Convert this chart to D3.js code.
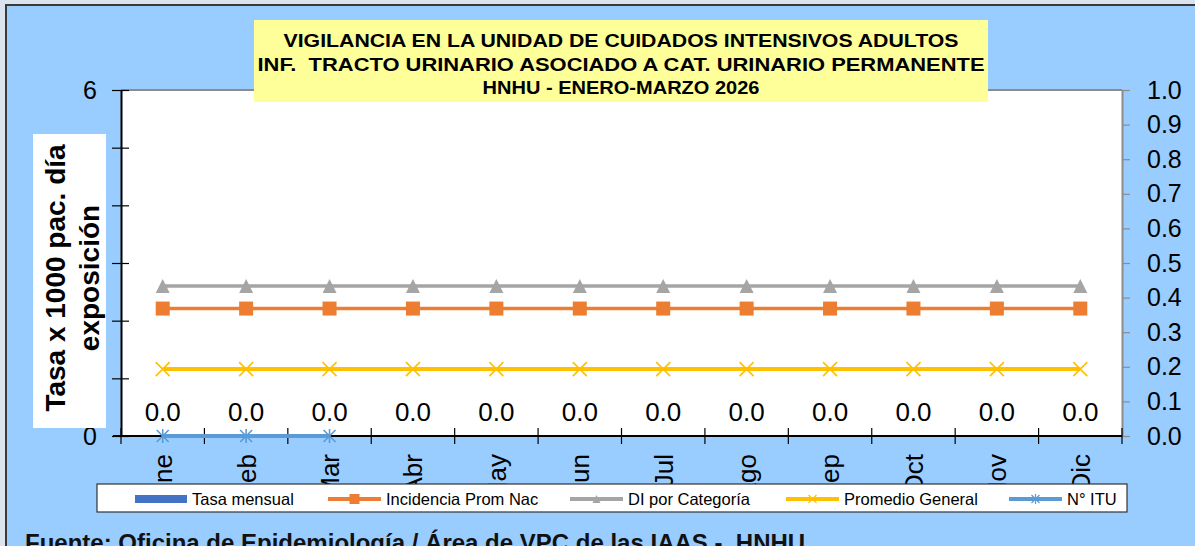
<!DOCTYPE html>
<html>
<head>
<meta charset="utf-8">
<script src="https://cdn.jsdelivr.net/npm/d3@7"></script>
<style>
  html, body { margin: 0; padding: 0; background: #dbe3ef; overflow: hidden; }
  svg { display: block; font-family: "Liberation Sans", Arial, sans-serif; }
  .keep-space { white-space: pre; }
</style>
</head>
<body>
<svg id="chart" width="1195" height="546"></svg>
<script>
// ---- data ----
const months = ["Ene", "Feb", "Mar", "Abr", "May", "Jun", "Jul", "Ago", "Sep", "Oct", "Nov", "Dic"];
const tasaMensual       = [0, 0, 0, 0, 0, 0, 0, 0, 0, 0, 0, 0];
const incidenciaPromNac = [2.21, 2.21, 2.21, 2.21, 2.21, 2.21, 2.21, 2.21, 2.21, 2.21, 2.21, 2.21];
const diPorCategoria    = [2.6, 2.6, 2.6, 2.6, 2.6, 2.6, 2.6, 2.6, 2.6, 2.6, 2.6, 2.6];
const promedioGeneral   = [1.16, 1.16, 1.16, 1.16, 1.16, 1.16, 1.16, 1.16, 1.16, 1.16, 1.16, 1.16];
const nItu              = [0, 0, 0];   // Ene–Mar (eje secundario)
const leftTicks  = [0, 1, 2, 3, 4, 5, 6];
const rightTicks = [0, 0.1, 0.2, 0.3, 0.4, 0.5, 0.6, 0.7, 0.8, 0.9, 1.0];
const titleLines = [
  "VIGILANCIA EN LA UNIDAD DE CUIDADOS INTENSIVOS ADULTOS",
  "INF.  TRACTO URINARIO ASOCIADO A CAT. URINARIO PERMANENTE",
  "HNHU - ENERO-MARZO 2026"
];
const yTitleLines = ["Tasa x 1000 pac. día", "exposición"];
const legendItems = ["Tasa mensual", "Incidencia Prom Nac", "DI por Categoría", "Promedio General", "N° ITU"];
const sourceNote = "Fuente: Oficina de Epidemiología / Área de VPC de las IAAS -  HNHU";

// ---- layout ----
const plot = { left: 121, right: 1122, top: 90, bottom: 436 };
const svg = d3.select("#chart");

const x  = d3.scaleBand().domain(months).range([plot.left, plot.right]);
const yL = d3.scaleLinear().domain([0, 6]).range([plot.bottom, plot.top]);
const yR = d3.scaleLinear().domain([0, 1]).range([plot.bottom, plot.top]);
const cx = m => x(m) + x.bandwidth() / 2;
const FONT = "Liberation Sans, Arial, sans-serif";

// outer chart area
svg.append("rect").attr("x", 6).attr("y", 5).attr("width", 1200).attr("height", 560)
  .attr("fill", "#99ccff").attr("stroke", "#3a3a3a").attr("stroke-width", 2);

// plot area
svg.append("rect").attr("x", plot.left).attr("y", plot.top)
  .attr("width", plot.right - plot.left).attr("height", plot.bottom - plot.top)
  .attr("fill", "#ffffff");
svg.append("line").attr("x1", plot.left).attr("x2", plot.right).attr("y1", plot.top).attr("y2", plot.top)
  .attr("stroke", "#8c8c8c").attr("stroke-width", 2);

// left axis (ticks cross the axis line)
const gL = svg.append("g").attr("transform", `translate(${plot.left},0)`)
  .call(d3.axisLeft(yL).tickValues(leftTicks).tickSizeInner(9).tickSizeOuter(0).tickPadding(15).tickFormat(d3.format("d")));
gL.select(".domain").attr("stroke", "#000").attr("stroke-width", 2);
gL.selectAll(".tick line").attr("x1", 8).attr("stroke", "#000").attr("stroke-width", 1.2);
gL.selectAll(".tick text").attr("font-size", 25).attr("fill", "#000").attr("font-family", FONT);

// right axis
const gR = svg.append("g").attr("transform", `translate(${plot.right},0)`)
  .call(d3.axisRight(yR).tickValues(rightTicks).tickSizeInner(8).tickSizeOuter(0).tickPadding(17).tickFormat(d3.format(".1f")));
gR.select(".domain").attr("stroke", "#8c8c8c").attr("stroke-width", 2);
gR.selectAll(".tick line").attr("stroke", "#8c8c8c").attr("stroke-width", 1.2);
gR.selectAll(".tick text").attr("font-size", 25).attr("fill", "#000").attr("font-family", FONT);

// bottom axis: category labels + boundary ticks
const gB = svg.append("g").attr("transform", `translate(0,${plot.bottom})`)
  .call(d3.axisBottom(x).tickSize(0).tickPadding(0));
gB.select(".domain").remove();
gB.selectAll(".tick text")
  .attr("transform", "rotate(-90)").attr("x", -18).attr("y", 0).attr("dy", "0.36em")
  .attr("text-anchor", "end").attr("font-size", 26).attr("fill", "#000")
  .attr("font-family", FONT);
const bounds = months.map(m => x(m)).concat([plot.right]);
gB.append("line").attr("x1", plot.left - 8).attr("x2", plot.right).attr("stroke", "#000").attr("stroke-width", 2);
gB.selectAll(".bound").data(bounds).join("line").attr("class", "bound")
  .attr("x1", d => d).attr("x2", d => d).attr("y1", -8).attr("y2", 8)
  .attr("stroke", "#000").attr("stroke-width", 1.2);

// bars (Tasa mensual)
svg.append("g").selectAll("rect").data(tasaMensual).join("rect")
  .attr("x", (d, i) => cx(months[i]) - 25).attr("width", 50)
  .attr("y", d => yL(d)).attr("height", d => yL(0) - yL(d))
  .attr("fill", "#4472c4");

// line series
function drawSeries(values, scale, color, width, marker) {
  const pts = values.map((v, i) => [cx(months[i]), scale(v)]);
  svg.append("path").attr("d", d3.line()(pts)).attr("fill", "none")
    .attr("stroke", color).attr("stroke-width", width);
  const g = svg.append("g");
  pts.forEach(p => marker(g.append("g").attr("transform", `translate(${p[0]},${p[1]})`), color));
}
const squareMarker = (g, c) => g.append("rect").attr("x", -7).attr("y", -7).attr("width", 14).attr("height", 14).attr("fill", c);
const triangleMarker = (g, c) => g.append("path").attr("d", "M-7,7L0,-7L7,7Z").attr("fill", c);
const crossMarker = (g, c) => g.append("path").attr("d", "M-7,-7L7,7M-7,7L7,-7").attr("stroke", c).attr("stroke-width", 1.6).attr("fill", "none");
const starMarker = (g, c) => g.append("path").attr("d", "M-6,-6L6,6M-6,6L6,-6M0,-7L0,7").attr("stroke", c).attr("stroke-width", 1.6).attr("fill", "none");

drawSeries(diPorCategoria, yL, "#a5a5a5", 3.5, triangleMarker);
drawSeries(incidenciaPromNac, yL, "#ed7d31", 3.5, squareMarker);
drawSeries(promedioGeneral, yL, "#ffc000", 4, crossMarker);
drawSeries(nItu, yR, "#5b9bd5", 4, starMarker);

// data labels for Tasa mensual
svg.append("g").selectAll("text").data(tasaMensual).join("text")
  .attr("x", (d, i) => cx(months[i])).attr("y", d => yL(d) - 15)
  .attr("text-anchor", "middle").attr("font-size", 26).attr("fill", "#000")
  .text(d => d3.format(".1f")(d));

// legend
const lg = svg.append("g");
lg.append("rect").attr("x", 97).attr("y", 484).attr("width", 1030).attr("height", 28)
  .attr("fill", "#fff").attr("stroke", "#333").attr("stroke-width", 1.2);
const legY = 499;
const legX = [135, 328, 570, 786, 1009];
const legStyle = [
  { color: "#4472c4", kind: "bar" },
  { color: "#ed7d31", kind: "square" },
  { color: "#a5a5a5", kind: "triangle" },
  { color: "#ffc000", kind: "cross" },
  { color: "#5b9bd5", kind: "star" }
];
legendItems.forEach((name, i) => {
  const x0 = legX[i], st = legStyle[i];
  if (st.kind === "bar") {
    lg.append("rect").attr("x", x0).attr("y", legY - 4).attr("width", 52).attr("height", 8).attr("fill", st.color);
  } else {
    lg.append("line").attr("x1", x0).attr("x2", x0 + 53).attr("y1", legY).attr("y2", legY)
      .attr("stroke", st.color).attr("stroke-width", 4);
    const m = lg.append("g").attr("transform", `translate(${x0 + 26.5},${legY})`);
    if (st.kind === "square") m.append("rect").attr("x", -5).attr("y", -5).attr("width", 10).attr("height", 10).attr("fill", st.color);
    if (st.kind === "triangle") m.append("path").attr("d", "M-4,4L0,-4L4,4Z").attr("fill", st.color);
    if (st.kind === "cross") m.append("path").attr("d", "M-4,-4L4,4M-4,4L4,-4").attr("stroke", st.color).attr("stroke-width", 1.2);
    if (st.kind === "star") m.append("path").attr("d", "M-4,-4L4,4M-4,4L4,-4M0,-5L0,5").attr("stroke", st.color).attr("stroke-width", 1.2);
  }
  lg.append("text").attr("x", x0 + (st.kind === "bar" ? 57 : 58)).attr("y", legY + 6)
    .attr("font-size", 16.5).attr("fill", "#000").text(name);
});

// y-axis title box
svg.append("rect").attr("x", 33).attr("y", 134).attr("width", 73).attr("height", 294).attr("fill", "#fff");
yTitleLines.forEach((t, i) => {
  svg.append("text").attr("transform", `translate(${65 + i * 34},278) rotate(-90)`)
    .attr("text-anchor", "middle").attr("font-size", 28).attr("font-weight", "bold").attr("fill", "#000").text(t);
});

// chart title box
svg.append("rect").attr("x", 254).attr("y", 20).attr("width", 734).attr("height", 82).attr("fill", "#ffff99");
const titleWidths = [675, 727, 277];
titleLines.forEach((t, i) => {
  svg.append("text").attr("class", "keep-space").attr("x", 621).attr("y", 47 + i * 23.5)
    .attr("text-anchor", "middle").attr("font-size", 18.5).attr("font-weight", "bold").attr("fill", "#000")
    .attr("textLength", titleWidths[i]).attr("lengthAdjust", "spacingAndGlyphs").text(t);
});

// source note (runs past the lower edge of the frame)
svg.append("text").attr("class", "keep-space").attr("x", 25).attr("y", 551).attr("font-size", 24).attr("font-weight", "bold")
  .attr("fill", "#111").text(sourceNote);
</script>
</body>
</html>
